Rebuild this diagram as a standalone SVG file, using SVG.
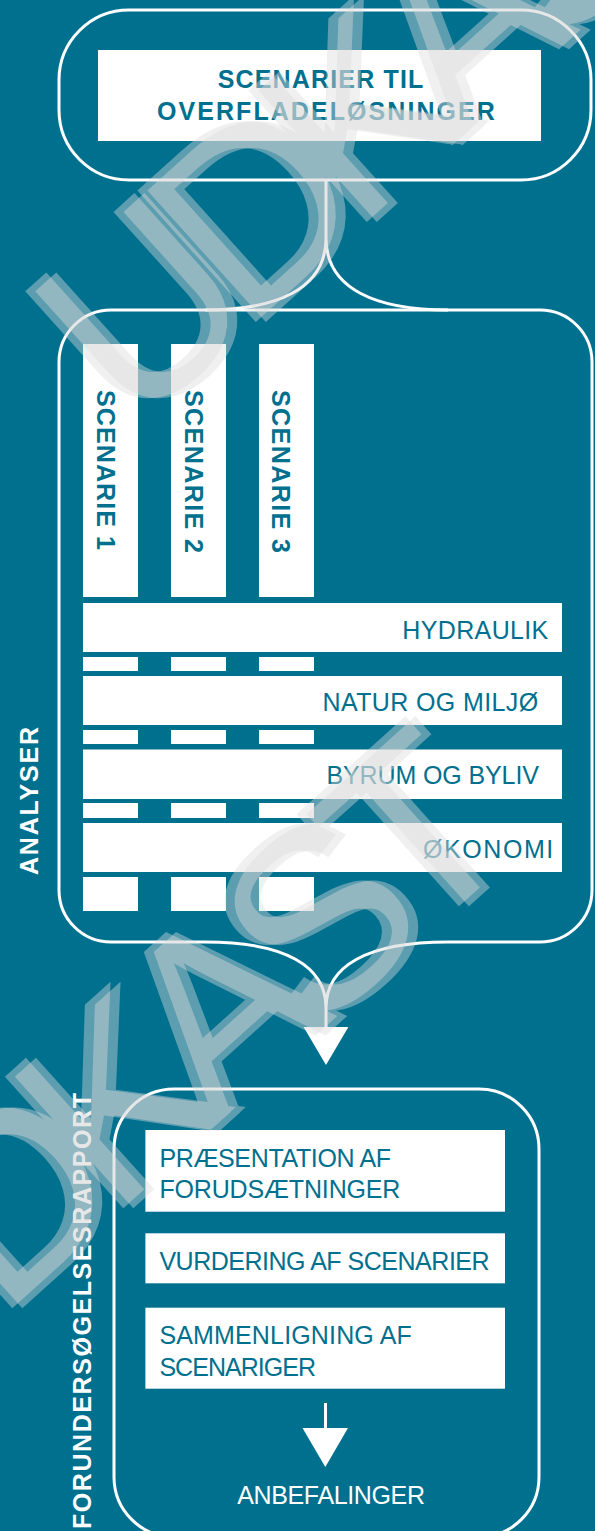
<svg xmlns="http://www.w3.org/2000/svg" width="595" height="1531" viewBox="0 0 595 1531">
<defs>
<style>
.ol{fill:none;stroke:#fff;stroke-width:3}
.wb{fill:#fff}
.tx{font-family:'Liberation Sans',Arial,sans-serif;font-size:25px;fill:#00708f}
.bd{font-weight:bold}
.wt{fill:#fff}
.ah{fill:#fff}
.wm{font-family:'Liberation Sans',Arial,sans-serif;font-size:250px;fill:#dcdcdc;stroke:#dcdcdc;stroke-width:5;stroke-linejoin:miter;letter-spacing:-31px}
.wmu{opacity:.42}
</style>
<g id="wmt" transform="rotate(-42)">
<text class="wm" x="-193" y="408">UDKAST</text>
<text class="wm" x="-1034" y="978">UDKAST</text>
</g>
</defs>
<rect width="595" height="1531" fill="#00708f"/>

<g id="node-scenarier">
<rect class="ol" x="59" y="10" width="532" height="170" rx="70"/>
<rect class="wb" x="98" y="50" width="443" height="91"/>
<text class="tx bd" x="320.5" y="87.7" font-size="24" text-anchor="middle" textLength="205.6" lengthAdjust="spacing">SCENARIER TIL</text>
<text class="tx bd" x="325.9" y="120" font-size="24" text-anchor="middle" textLength="338" lengthAdjust="spacing">OVERFLADELØSNINGER</text>
</g>

<g id="node-analyser">
<path class="ol" d="M205,310 H540 A52,52 0 0 1 592,362 V890 A52,52 0 0 1 540,942 H448 M205,942 H111 A52,52 0 0 1 59,890 V362 A52,52 0 0 1 111,310 H205"/>
<text class="tx bd wt" font-size="27" transform="translate(38,875) rotate(-90)" textLength="148" lengthAdjust="spacing">ANALYSER</text>
<g id="scenarie-bars">
<rect class="wb" x="83" y="344" width="55" height="253"/>
<rect class="wb" x="171" y="344" width="55" height="253"/>
<rect class="wb" x="259" y="344" width="55" height="253"/>
<rect class="wb" x="83" y="657" width="55" height="14"/>
<rect class="wb" x="171" y="657" width="55" height="14"/>
<rect class="wb" x="259" y="657" width="55" height="14"/>
<rect class="wb" x="83" y="730" width="55" height="14"/>
<rect class="wb" x="171" y="730" width="55" height="14"/>
<rect class="wb" x="259" y="730" width="55" height="14"/>
<rect class="wb" x="83" y="803" width="55" height="15"/>
<rect class="wb" x="171" y="803" width="55" height="15"/>
<rect class="wb" x="259" y="803" width="55" height="15"/>
<rect class="wb" x="83" y="877" width="55" height="34"/>
<rect class="wb" x="171" y="877" width="55" height="34"/>
<rect class="wb" x="259" y="877" width="55" height="34"/>
</g>
<g id="scenarie-1"><text class="tx bd" font-size="28" transform="translate(96.7,390) rotate(90)" textLength="160" lengthAdjust="spacing">SCENARIE 1</text></g>
<g id="scenarie-2"><text class="tx bd" font-size="28" transform="translate(184.5,390) rotate(90)" textLength="163" lengthAdjust="spacing">SCENARIE 2</text></g>
<g id="scenarie-3"><text class="tx bd" font-size="28" transform="translate(272.4,390) rotate(90)" textLength="163" lengthAdjust="spacing">SCENARIE 3</text></g>
<g id="hydraulik">
<rect class="wb" x="83" y="603" width="479" height="49"/>
<text class="tx" x="402.3" y="639" textLength="146" lengthAdjust="spacing">HYDRAULIK</text>
</g>
<g id="natur">
<rect class="wb" x="83" y="676" width="479" height="49"/>
<text class="tx" x="322.6" y="711" textLength="215.5" lengthAdjust="spacing">NATUR OG MILJØ</text>
</g>
<g id="byrum">
<rect class="wb" x="83" y="749.5" width="479" height="49.5"/>
<text class="tx" x="326.4" y="784.3" textLength="212.5" lengthAdjust="spacing">BYRUM OG BYLIV</text>
</g>
<g id="okonomi">
<rect class="wb" x="83" y="823" width="479" height="49"/>
<text class="tx" x="423.1" y="858.3" textLength="130.2" lengthAdjust="spacing">ØKONOMI</text>
</g>
</g>

<g id="node-rapport">
<rect class="ol" x="114" y="1089" width="425" height="448" rx="60"/>
<text class="tx bd wt" font-size="27" transform="translate(91,1529) rotate(-90)" textLength="436" lengthAdjust="spacing">FORUNDERSØGELSESRAPPORT</text>
<g id="praesentation">
<rect class="wb" x="145.4" y="1130" width="359.6" height="81.7"/>
<text class="tx" x="159.4" y="1167.3" textLength="231.6" lengthAdjust="spacing">PRÆSENTATION AF</text>
<text class="tx" x="159.4" y="1198.3" textLength="241" lengthAdjust="spacing">FORUDSÆTNINGER</text>
</g>
<g id="vurdering">
<rect class="wb" x="145.4" y="1233.3" width="359.6" height="50"/>
<text class="tx" x="159.4" y="1270" textLength="330.2" lengthAdjust="spacing">VURDERING AF SCENARIER</text>
</g>
<g id="sammenligning">
<rect class="wb" x="145.4" y="1307.7" width="359.6" height="81"/>
<text class="tx" x="159.4" y="1344" textLength="252.4" lengthAdjust="spacing">SAMMENLIGNING AF</text>
<text class="tx" x="159.4" y="1375.7" textLength="156.6" lengthAdjust="spacing">SCENARIGER</text>
</g>
<g id="anbefalinger">
<text class="tx wt" x="237.2" y="1504" textLength="187.8" lengthAdjust="spacing">ANBEFALINGER</text>
</g>
</g>

<g id="connectors">
<path class="ol" d="M326,180 V238 C326,290 275,310 205,310 M326,238 C326,290 378,310 448,310"/>
<path class="ol" d="M205,942 C285,942 326,966 326,1008 V1030 M448,942 C367,942 326,966 326,1008"/>
<polygon class="ah" points="303.6,1027 348.4,1027 326,1065"/>
<path class="ol" d="M325.5,1403 V1430"/>
<polygon class="ah" points="302.5,1428 348,1428 325.3,1467"/>
</g>

<g id="watermark">
<use class="wmu" href="#wmt"/>
<use class="wmu" href="#wmt" x="10"/>
</g>
</svg>
